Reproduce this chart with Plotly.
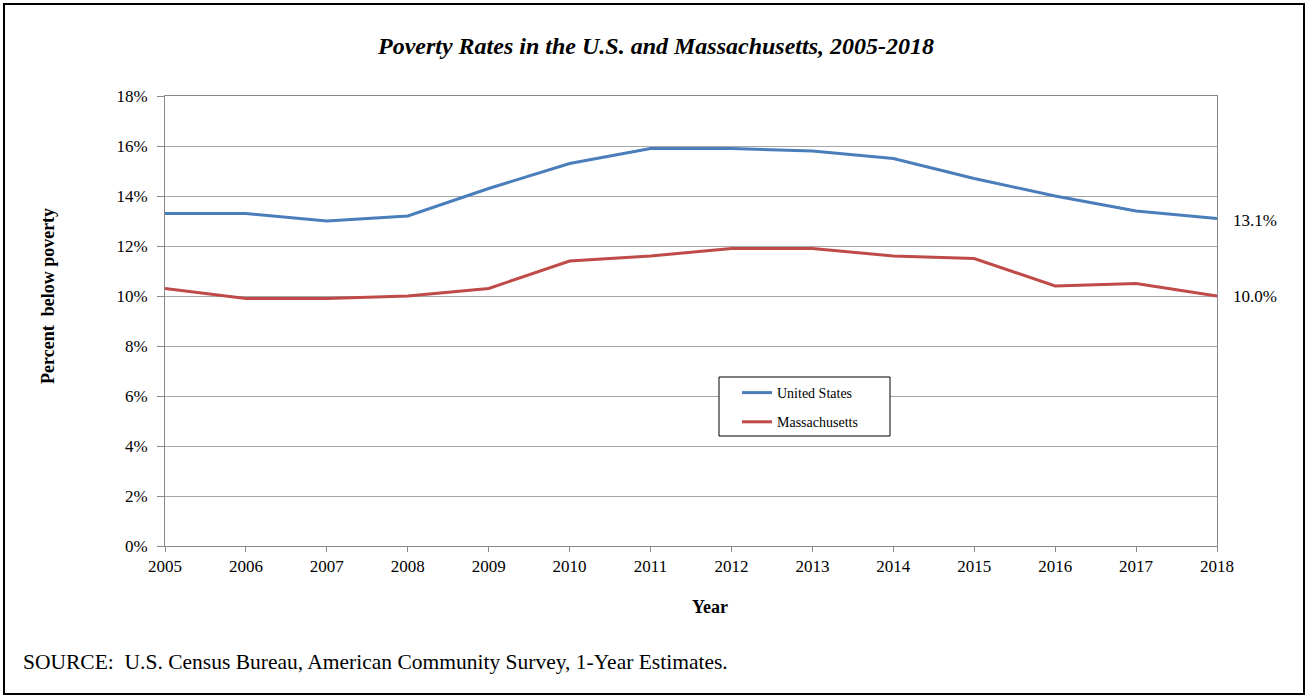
import plotly.graph_objects as go

years = list(range(2005, 2019))
us_rate = [13.3, 13.3, 13.0, 13.2, 14.3, 15.3, 15.9, 15.9, 15.8, 15.5, 14.7, 14.0, 13.4, 13.1]
ma_rate = [10.3, 9.9, 9.9, 10.0, 10.3, 11.4, 11.6, 11.9, 11.9, 11.6, 11.5, 10.4, 10.5, 10.0]
y_ticks = [0, 2, 4, 6, 8, 10, 12, 14, 16, 18]
y_labels = [f"{v}%" for v in y_ticks]

W, H = 1308, 698
L, R, T, B = 165, 91, 96, 152
pw, ph = W - L - R, H - T - B

def px_x(p):
    return (p - L) / pw

def px_y(p):
    return (H - B - p) / ph

FONT = "Liberation Serif, Times New Roman, serif"

fig = go.Figure()
fig.add_trace(go.Scatter(x=years, y=us_rate, mode="lines", name="United States",
                         legendgroup="us",
                         line=dict(color="#4A7EBB", width=3)))
fig.add_trace(go.Scatter(x=years, y=ma_rate, mode="lines", name="Massachusetts",
                         legendgroup="ma",
                         line=dict(color="#BE4B48", width=3)))

fig.update_layout(
    width=W, height=H,
    margin=dict(l=L, r=R, t=T, b=B, autoexpand=False),
    paper_bgcolor="white", plot_bgcolor="white",
    font=dict(family=FONT, color="black", size=17),
    title=dict(text="<b><i>Poverty Rates in the U.S. and Massachusetts, 2005-2018</i></b>",
               x=px_x(656), xref="paper", xanchor="center", y=1 - 46 / H, yanchor="middle",
               font=dict(size=24, family=FONT)),
    xaxis=dict(range=[2005, 2018], tickmode="array", tickvals=years,
               ticks="outside", ticklen=5, tickcolor="#888888",
               showgrid=False, showline=True, linecolor="#888888", linewidth=1,
               mirror=True, zeroline=False,
               tickfont=dict(size=17, family=FONT)),
    yaxis=dict(range=[0, 18], tickmode="array", tickvals=y_ticks, ticktext=y_labels,
               ticks="outside", ticklen=7, tickcolor="#888888",
               showgrid=True, gridcolor="#A6A6A6", gridwidth=1,
               showline=True, linecolor="#888888", linewidth=1, mirror=True, zeroline=False,
               ticklabelstandoff=6,
               tickfont=dict(size=17, family=FONT)),
    legend=dict(x=px_x(737), y=px_y(377), xanchor="left", yanchor="top",
                borderwidth=0, bgcolor="rgba(0,0,0,0)",
                font=dict(size=14, family=FONT), itemwidth=30,
                traceorder="grouped", tracegroupgap=8),
    showlegend=True,
)

# legend frame
fig.add_shape(type="rect", xref="paper", yref="paper",
              x0=px_x(719), x1=px_x(890), y0=px_y(436), y1=px_y(377),
              line=dict(color="black", width=1), fillcolor="white", layer="above")

# axis titles
fig.add_annotation(xref="paper", yref="paper", x=px_x(710), y=px_y(607), xanchor="center",
                   yanchor="middle", showarrow=False, text="<b>Year</b>",
                   font=dict(size=18, family=FONT))
fig.add_annotation(xref="paper", yref="paper", x=px_x(48), y=px_y(296), xanchor="center",
                   yanchor="middle", showarrow=False, textangle=-90,
                   text="<b>Percent  below poverty</b>", font=dict(size=18, family=FONT))

fig.add_annotation(x=2018, y=us_rate[-1], text=f"{us_rate[-1]:.1f}%", showarrow=False,
                   xanchor="left", xshift=14, yshift=-2, font=dict(size=17, family=FONT))
fig.add_annotation(x=2018, y=ma_rate[-1], text=f"{ma_rate[-1]:.1f}%", showarrow=False,
                   xanchor="left", xshift=14, font=dict(size=17, family=FONT))

fig.add_annotation(xref="paper", yref="paper", x=px_x(21), y=px_y(662), xanchor="left",
                   yanchor="middle", showarrow=False,
                   text="SOURCE:  U.S. Census Bureau, American Community Survey, 1-Year Estimates.",
                   font=dict(size=21.5, family=FONT))

fig.add_shape(type="rect", xref="paper", yref="paper",
              x0=px_x(4), x1=px_x(1304), y0=px_y(694), y1=px_y(4),
              line=dict(color="black", width=2), layer="above")

fig.write_html("out.html", config={"displayModeBar": False},
               post_script="document.body.style.margin='0';document.body.style.overflow='hidden';")
